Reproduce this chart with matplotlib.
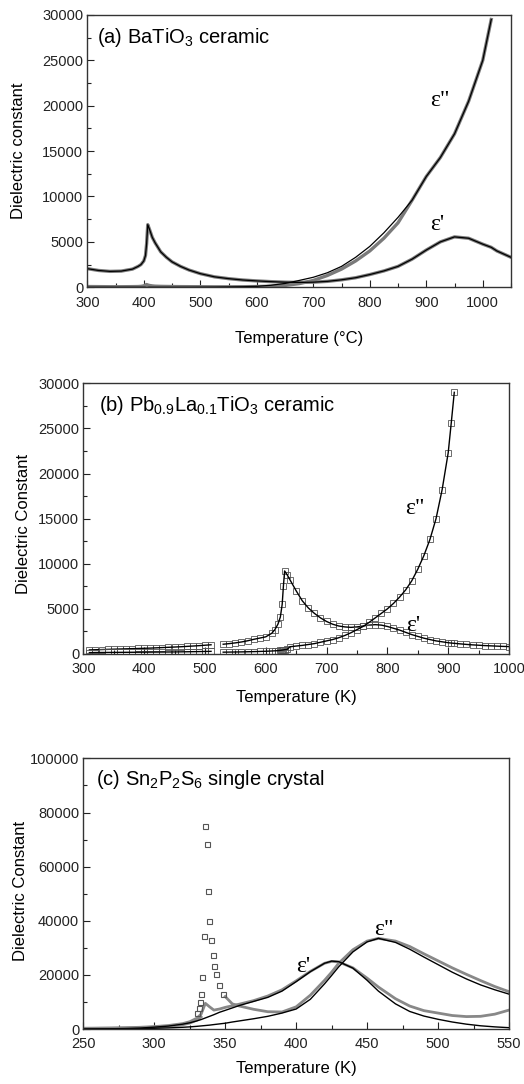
import numpy as np
import matplotlib
matplotlib.use("Agg")
import matplotlib.pyplot as plt
from matplotlib.ticker import MultipleLocator

plt.rcParams["font.family"] = ["Liberation Sans", "DejaVu Sans"]
plt.rcParams["mathtext.fontset"] = "custom"
plt.rcParams["mathtext.rm"] = "Liberation Sans"
plt.rcParams["mathtext.default"] = "regular"

nan = np.nan

# ---- (a) BaTiO3 ceramic, temperature in degC
T_a = [300, 320, 340, 360, 380, 390, 395, 400, 403, 405, 407, 410, 415, 420,
       430, 440, 450, 465, 480, 500, 525, 550, 575, 600, 625, 650, 675, 700,
       725, 750, 775, 800, 825, 850, 875, 900, 925, 950, 975, 1000, 1015,
       1025, 1050]
eps1_a = [2050, 1850, 1750, 1780, 2000, 2300, 2500, 2900, 3500, 4800, 6900,
          6400, 5500, 4900, 3900, 3300, 2800, 2300, 1900, 1500, 1150, 950, 800,
          700, 620, 560, 530, 560, 650, 820, 1050, 1400, 1800, 2300, 3100,
          4100, 5000, 5550, 5400, 4750, 4400, 4000, 3300]
eps2_a = [80, 70, 60, 60, 70, 80, 100, 150, 250, 300, 250, 200, 150, 120,
          100, 90, 80, 70, 65, 60, 50, 50, 60, 80, 120, 200, 400, 750, 1300,
          2000, 2900, 4000, 5400, 7100, 9600, 12200, 14300, 16900, 20500,
          25000, 29500, nan, nan]
eps2_fit_a = [0, 0, 0, 0, 0, 0, 0, 0, 0, 0, 0, 0, 0, 0, 0, 0, 0, 0, 0, 10,
              20, 40, 60, 100, 220, 420, 750, 1100, 1600, 2300, 3300, 4500,
              6000, 7700, 9600, 12200, 14300, 16900, 20500, 25000, 29500,
              nan, nan]

# ---- (b) Pb0.9La0.1TiO3 ceramic, temperature in K
T_b = [310, 320, 330, 340, 350, 360, 370, 380, 390, 400, 410, 420, 430, 440,
       450, 460, 470, 480, 490, 500, 510, 520, 530, 540, 550, 560, 570, 580,
       590, 600, 610, 615, 620, 624, 627, 629, 631, 635, 640, 650, 660, 670,
       680, 690, 700, 710, 720, 730, 740, 750, 760, 770, 780, 790, 800, 810,
       820, 830, 840, 850, 860, 870, 880, 890, 900, 905, 910, 920, 930, 940,
       950, 960, 970, 980, 990, 1000]
eps1_b = [450, 470, 490, 510, 530, 550, 570, 590, 610, 630, 650, 680, 710,
          740, 770, 800, 840, 880, 920, 970, 1020, nan, 1080, 1150, 1230,
          1330, 1460, 1620, 1760, 1900, 2300, 2700, 3300, 4100, 5500, 7500,
          9200, 8800, 8200, 7000, 5900, 5100, 4500, 4000, 3600, 3300, 3100,
          3000, 2950, 3000, 3100, 3200, 3250, 3200, 3050, 2850, 2650, 2400,
          2150, 1950, 1750, 1600, 1450, 1350, 1250, 1210, 1180, 1120, 1060,
          1010, 970, 930, 900, 870, 840, 820]
eps2_b = [150, 160, 165, 170, 175, 180, 185, 190, 195, 200, 205, 210, 215,
          220, 225, 235, 245, 255, 265, 280, 290, nan, 200, 210, 220, 230,
          245, 260, 280, 300, 330, 350, 370, 400, 430, 450, 480, 500, 800,
          880, 950, 1050, 1150, 1300, 1450, 1600, 1800, 2050, 2350, 2700,
          3050, 3500, 4000, 4500, 5000, 5600, 6300, 7100, 8100, 9400, 10900,
          12700, 15000, 18200, 22300, 25600, 29000, nan, nan, nan, nan, nan,
          nan, nan, nan, nan]

# ---- (c) Sn2P2S6 single crystal, temperature in K
T_c = [250, 260, 270, 280, 290, 300, 310, 320, 325, 330, 333, 336, 339, 342,
       346, 350, 355, 360, 370, 380, 390, 400, 410, 420, 425, 430, 440, 450,
       458, 470, 480, 490, 500, 510, 520, 530, 540, 550]
eps1_c = [300, 350, 400, 500, 650, 900, 1300, 2000, 2700, 4000, 5500, 9500,
          8200, 7000, 7400, 8000, 8600, 9200, 10500, 12200, 14500, 17800,
          21300, 24300, 25000, 24800, 22600, 18800, 15500, 11200, 8500, 6800,
          5900, 5000, 4600, 4700, 5500, 7000]
eps1_fit_c = [0, 50, 100, 200, 350, 700, 1100, 1800, 2300, 3000, 3500, 4100,
              4700, 5300, 6200, 6900, 7800, 8700, 10200, 11700, 14000, 17500,
              21200, 24300, 25100, 24900, 22500, 18000, 14000, 9300, 6500,
              4800, 3600, 2600, 1800, 1200, 800, 500]
eps2_c = [200, 250, 300, 380, 500, 700, 1000, 1600, 2200, 3300, 4500, nan,
          nan, nan, nan, 12000, 9300, 8500, 7300, 6400, 6300, 8200, 12500,
          18000, 21000, 24300, 29300, 32500, 33500, 32500, 30500, 27800,
          25200, 22600, 20200, 17900, 15700, 13800]
eps2_fit_c = [0, 30, 60, 100, 180, 280, 420, 650, 800, 1000, 1150, 1300,
              1450, 1650, 1900, 2150, 2600, 3000, 3800, 4700, 5900, 7400,
              11000, 16700, 19800, 23000, 28500, 32200, 33500, 32000, 29500,
              26600, 23800, 21000, 18500, 16300, 14500, 12900]
T_spike = [330.3, 331.3, 332.2, 333.2, 333.9, 334.8, 336.0, 337.2, 338.1,
           338.8, 340.2, 341.1, 342.1, 343.5, 345.4, 348.2]
eps_spike = [5800, 7600, 9900, 12900, 19100, 34500, 75000, 68300, 51000,
             40000, 32900, 27300, 23300, 20300, 16400, 12900]


def style(ax, xlim, ylim, xmaj, xmin, ymaj, ymin):
    ax.set_xlim(*xlim)
    ax.set_ylim(*ylim)
    ax.xaxis.set_major_locator(MultipleLocator(xmaj))
    ax.xaxis.set_minor_locator(MultipleLocator(xmin))
    ax.yaxis.set_major_locator(MultipleLocator(ymaj))
    ax.yaxis.set_minor_locator(MultipleLocator(ymin))
    ax.tick_params(which="both", direction="in", top=False, right=False,
                   colors="#222222", labelsize=10.5, width=0.8)
    ax.tick_params(which="major", length=5)
    ax.tick_params(which="minor", length=3)
    ax.tick_params(axis="x", which="major", pad=6)
    ax.tick_params(axis="y", which="major", pad=3)
    for s in ax.spines.values():
        s.set_color("#333333")
        s.set_linewidth(1.0)


fig = plt.figure(figsize=(5.24, 10.84), dpi=100)
eps_font = dict(family=["Liberation Serif", "DejaVu Serif"], fontsize=17,
                ha="center", va="center")

# (a)
ax = fig.add_axes([0.1666, 0.735, 0.8086, 0.2512])
ax.plot(T_a, eps1_a, color="#7a7a7a", lw=2.4)
ax.plot(T_a, eps2_a, color="#7a7a7a", lw=2.4)
ax.plot(T_a, eps1_a, color="black", lw=0.9)
ax.plot(T_a, eps2_fit_a, color="black", lw=0.9)
style(ax, (300, 1050), (0, 30000), 100, 50, 5000, 2500)
ax.text(0.023, 0.897, "(a) BaTiO$_3$ ceramic", transform=ax.transAxes,
        fontsize=14.5, va="baseline")
ax.text(924, 20600, "ε\"", **eps_font)
ax.text(919, 6900, "ε'", **eps_font)
ax.set_xlabel("Temperature (°C)", fontsize=12)
ax.set_ylabel("Dielectric constant", fontsize=12)
ax.xaxis.set_label_coords(0.5, -0.162)
ax.yaxis.set_label_coords(-0.145, 0.5)

# (b)
ax = fig.add_axes([0.159, 0.3967, 0.8124, 0.2497])
for y in (eps1_b, eps2_b):
    ax.plot(T_b, y, ls="none", marker="s", ms=3.8, mfc="none",
            mec="#555555", mew=0.6)
    ax.plot(T_b, y, color="black", lw=1.0)
style(ax, (300, 1000), (0, 30000), 100, 50, 5000, 2500)
ax.text(0.038, 0.898, "(b) Pb$_{0.9}$La$_{0.1}$TiO$_3$ ceramic",
        transform=ax.transAxes, fontsize=14.5, va="baseline")
ax.text(845, 16100, "ε\"", **eps_font)
ax.text(843, 3200, "ε'", **eps_font)
ax.set_xlabel("Temperature (K)", fontsize=12)
ax.set_ylabel("Dielectric Constant", fontsize=12)
ax.xaxis.set_label_coords(0.5, -0.134)
ax.yaxis.set_label_coords(-0.124, 0.48)

# (c)
ax = fig.add_axes([0.159, 0.0507, 0.8124, 0.2497])
ax.plot(T_c, eps1_c, color="#888888", lw=2.0)
ax.plot(T_c, eps2_c, color="#888888", lw=2.0)
ax.plot(T_c, eps1_fit_c, color="black", lw=1.0)
ax.plot(T_c, eps2_fit_c, color="black", lw=1.0)
ax.plot(T_spike, eps_spike, ls="none", marker="s", ms=3.6, mfc="none",
        mec="#555555", mew=0.8)
style(ax, (250, 550), (0, 100000), 50, 25, 20000, 10000)
ax.text(0.030, 0.901, "(c) Sn$_2$P$_2$S$_6$ single crystal",
        transform=ax.transAxes, fontsize=14.5, va="baseline")
ax.text(405, 23000, "ε'", **eps_font)
ax.text(462, 36600, "ε\"", **eps_font)
ax.set_xlabel("Temperature (K)", fontsize=12)
ax.set_ylabel("Dielectric Constant", fontsize=12)
ax.xaxis.set_label_coords(0.5, -0.118)
ax.yaxis.set_label_coords(-0.131, 0.51)

fig.savefig("out.png", dpi=100)
